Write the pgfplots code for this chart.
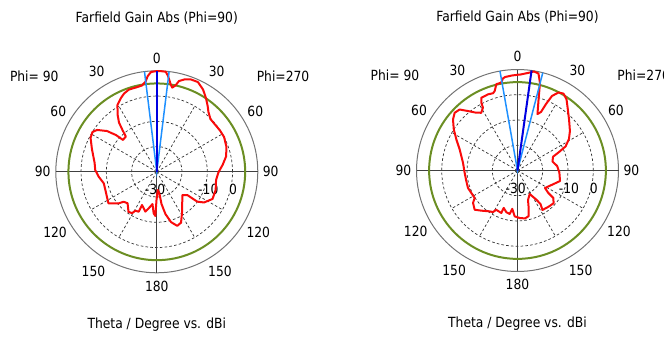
\documentclass[border=0pt]{standalone}
\usepackage{pgfplots}
\pgfplotsset{compat=1.18}
\usepackage{pgfplotstable}
\usepackage{fontspec}
\setmainfont{DejaVu Sans}[FakeStretch=0.88]

\definecolor{cred}{RGB}{250,10,10}
\definecolor{cgreen}{RGB}{107,142,35}
\definecolor{cdblue}{RGB}{0,0,225}
\definecolor{clblue}{RGB}{30,144,255}
\definecolor{cgrid}{RGB}{50,50,50}

% theta (deg, clockwise from top; right half = Phi 270, left half = Phi 90), gain (dBi)
\pgfplotstableread{
t g
0 9.9
2.2 9.9
5.1 9.8
6.7 8.2
9.0 5.1
10.4 3.9
12.3 5.05
13.7 7.0
16.7 8.2
20.3 9.0
24.6 9.1
29.3 7.4
33.7 5.1
37.7 2.95
40.8 1.3
45.5 -0.2
50.9 -0.3
56.8 -0.1
62.6 0.0
70.4 -0.7
77.5 -1.9
83.7 -3.7
90.6 -5.6
97.9 -6.3
107.2 -5.6
116.0 -5.45
123.0 -7.7
126.4 -10.1
127.3 -14.8
132.3 -16.3
141.0 -14.0
148.7 -10.8
154.5 -7.7
159.3 -7.1
164.2 -9.3
168.4 -12.9
171.7 -17.1
173.1 -21.1
176.9 -22.8
180.6 -18.8
181.9 -12.5
184.3 -13.5
187.6 -17.1
192.5 -15.2
196.1 -13.6
204.0 -15.6
204.4 -12.65
208.9 -12.4
210.9 -10.9
215.3 -10.6
222.9 -13.0
227.9 -12.3
230.4 -10.4
236.9 -7.15
243.4 -7.9
250.5 -8.4
257.8 -8.5
265.2 -6.9
271.7 -5.6
278.3 -5.1
289.2 -2.8
297.2 -0.5
301.8 -0.05
305.0 -1.1
309.3 -4.5
312.0 -8.25
313.3 -11.6
318.7 -11.4
320.6 -8.6
322.5 -5.4
325.6 -2.5
329.5 0.7
334.1 2.5
337.3 3.6
341.3 4.4
346.1 4.4
350.3 4.7
352.9 6.0
354.6 8.1
356.7 9.6
360 9.9
}\leftdata

\pgfplotstableread{
t g
0 7.9
1.5 8.0
6.1 8.85
9.5 9.75
12.2 9.3
14.4 5.8
16.6 -0.85
19.5 -6.3
21.9 -5.0
23.2 -1.35
24.8 2.5
27.7 4.9
30.9 5.5
34.6 4.2
39.3 1.45
45.6 -1.4
53.0 -4.0
58.5 -6.1
63.4 -8.7
66.3 -12.3
68.8 -14.9
75.6 -15.7
83.5 -14.2
92.7 -13.4
103.9 -12.65
111.2 -14.9
122.5 -17.1
126.1 -14.9
127.5 -12.1
132.2 -10.7
139.2 -11.1
147.7 -11.5
145.5 -13.9
147.3 -16.4
152.6 -19.5
160.4 -17.6
163.5 -14.4
166.2 -11.4
171.1 -10.8
177.3 -11.15
183.5 -11.8
187.8 -14.7
190.2 -12.5
195.0 -12.9
200.2 -14.2
200.9 -12.0
208.4 -12.3
210.6 -10.9
214.9 -10.3
222.0 -8.6
227.5 -7.0
233.9 -8.2
237.3 -9.85
244.0 -9.65
250.5 -9.2
258.1 -9.3
268.4 -9.0
278.1 -8.2
290.1 -5.6
297.0 -2.8
302.9 0.06
308.4 2.6
312.6 3.8
316.5 3.3
320.2 0.65
324.5 -1.9
327.9 -3.0
331.2 -1.6
331.9 0.45
333.6 2.2
336.2 2.2
338.8 2.35
342.4 2.1
344.0 2.75
346.2 5.2
349.5 5.4
351.0 6.9
352.4 7.35
356.7 7.7
360 7.9
}\rightdata

\pgfplotsset{
  farfield/.style={
    scale only axis, width=202pt, height=202pt,
    xmin=-40, xmax=40, ymin=-40, ymax=40,
    axis lines=none, clip=false, anchor=center,
  },
}
\tikzset{gridline/.style={cgrid, line width=0.7pt, dash pattern=on 2.6pt off 2.2pt}}

\newcommand{\farfieldframe}{%
  \draw[gridline] (axis cs:0,0) circle[radius=10];
  \draw[gridline] (axis cs:0,0) circle[radius=20];
  \draw[gridline] (axis cs:0,0) circle[radius=30];
  \pgfplotsinvokeforeach{30,60,120,150,210,240,300,330}{%
    \draw[gridline] (axis cs:0,0) -- (axis cs:{30*cos(##1)},{30*sin(##1)});}
  \draw[black!55, line width=1pt] (axis cs:0,0) circle[radius=40];
  \draw[black!75, line width=1pt] (axis cs:-40,0) -- (axis cs:40,0);
  \draw[black!75, line width=1pt] (axis cs:0,-40) -- (axis cs:0,40);
  \draw[cgreen, line width=2pt] (axis cs:0,0) circle[radius=35.0];
  \node at (axis cs:0,60.8) {Farfield Gain Abs (Phi=90)};
  \node at (axis cs:0,-60.7) {Theta / Degree vs. dBi};
  \node[anchor=east] at (axis cs:-37.5,37.8) {Phi= 90};
  \node[anchor=west] at (axis cs:38.2,37.8) {Phi=270};
  \node at (axis cs:0,45.0) {0};
  \node at (axis cs:-23.8,39.6) {30};
  \node at (axis cs:23.7,39.6) {30};
  \node at (axis cs:-39.0,23.8) {60};
  \node at (axis cs:39.0,23.8) {60};
  \node at (axis cs:-45.2,0) {90};
  \node at (axis cs:45.1,0) {90};
  \node at (axis cs:-40.3,-24.0) {120};
  \node at (axis cs:40.2,-24.0) {120};
  \node at (axis cs:-25.1,-39.6) {150};
  \node at (axis cs:25.0,-39.6) {150};
  \node at (axis cs:0,-45.2) {180};
  \node at (axis cs:-0.7,-6.9) {-30};
  \node at (axis cs:20.4,-6.9) {-10};
  \node at (axis cs:30.2,-6.9) {0};
}

\begin{document}
\begin{tikzpicture}[font=\fontsize{14}{16}\selectfont]
\useasboundingbox (0,0) rectangle (664pt,338pt);

\begin{axis}[farfield, at={(156.8pt,166.2pt)}]
  \farfieldframe
  \addplot[cred, line width=2pt, line join=round, data cs=polar]
    table[x expr={90-\thisrow{t}}, y expr={\thisrow{g}+30}] {\leftdata};
  \addplot[clblue, line width=1.5pt, data cs=polar] coordinates {(97,40) (0,0) (83,40)};
  \addplot[cdblue, line width=2pt, data cs=polar] coordinates {(0,0) (90,40)};
\end{axis}

\begin{axis}[farfield, at={(517.5pt,167.5pt)}]
  \farfieldframe
  \addplot[cred, line width=2pt, line join=round, data cs=polar]
    table[x expr={90-\thisrow{t}}, y expr={\thisrow{g}+30}] {\rightdata};
  \addplot[clblue, line width=1.5pt, data cs=polar] coordinates {(100,40) (0,0) (75.5,40)};
  \addplot[cdblue, line width=2pt, data cs=polar] coordinates {(0,0) (82,40)};
\end{axis}
\end{tikzpicture}
\end{document}
